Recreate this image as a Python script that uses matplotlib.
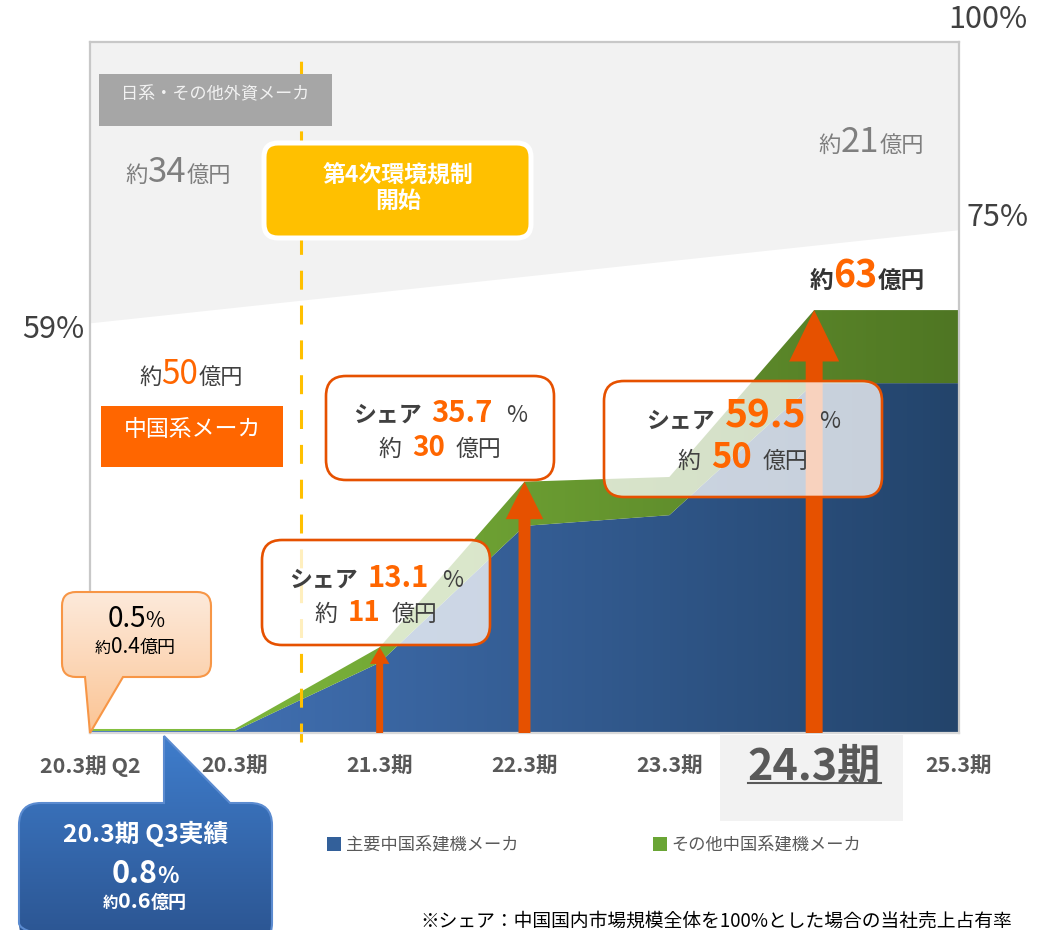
import numpy as np
import matplotlib
matplotlib.use('Agg')
import matplotlib.pyplot as plt
from matplotlib.path import Path
from matplotlib.patches import PathPatch, Patch
from matplotlib.colors import LinearSegmentedColormap
from matplotlib.transforms import Affine2D, blended_transform_factory

plt.rcParams['font.family'] = ['Noto Sans CJK JP', 'DejaVu Sans']

# --- data (億円) ---
periods = ['20.3期 Q2', '20.3期', '21.3期', '22.3期', '23.3期', '24.3期', '25.3期']
main_cn = [0.3, 0.3, 10.5, 30.9, 32.5, 52.2, 52.2]     # 主要中国系建機メーカ
other_cn = [0.3, 0.3, 2.3, 6.6, 5.7, 10.9, 10.9]     # その他中国系建機メーカ
others_x = [0, 6]
others_floor = [61.2, 75.1]                           # 日系・その他外資メーカ の下端
y_top = 103.1
share_labels = ['59%', '75%', '100%']
rule_x = 1.46                                          # 第4次環境規制 開始
arrow_idx = [2, 3, 5]

W, H = 1043, 930
fig = plt.figure(figsize=(W / 100, H / 100), dpi=100)
ax = fig.add_axes([90 / W, 1 - 733 / H, 869 / W, 691 / H])
ax.set_xlim(0, 6)
ax.set_ylim(0, y_top)

PX = Affine2D().scale(1 / 100, -1 / 100).translate(0, H / 100) + fig.dpi_scale_trans
PXU = Affine2D().scale(1 / 100, 1 / 100) + fig.dpi_scale_trans

DARK = '#404040'
ORANGE = '#ff6600'
ARROW = '#e65100'

xs = np.arange(len(periods))
main_cn = np.array(main_cn)
total = main_cn + np.array(other_cn)

# gray band (others)
ax.fill_between(others_x, others_floor, y_top, color='#f2f2f2', lw=0, zorder=0.5)


def area_gradient(lower, upper, c1, c2, z):
    verts = list(zip(xs, upper)) + list(zip(xs[::-1], lower[::-1]))
    poly = plt.Polygon(verts, closed=True, fc='none', ec='none', transform=ax.transData)
    ax.add_patch(poly)
    cm = LinearSegmentedColormap.from_list('g', [c1, c2])
    im = ax.imshow(np.linspace(0, 1, 256).reshape(1, -1), cmap=cm, extent=(0, 6, 0, y_top),
                   aspect='auto', zorder=z, interpolation='bilinear')
    im.set_clip_path(poly)


area_gradient(np.zeros(7), main_cn, '#4677be', '#23446b', 1)
area_gradient(main_cn, total, '#86c340', '#4f7623', 1)

# dashed regulation line
ax.plot([rule_x, rule_x], [-1.3, 100.6], color='#ffc000', lw=2.2,
        linestyle=(0, (6.2, 5.2)), zorder=2, clip_on=False)

# arrows
arrow_sizes = [(5, 14, 12), (8.6, 27, 27), (12.2, 36, 37)]
for i, (tw, hw, hl) in zip(arrow_idx, arrow_sizes):
    ax.annotate('', xy=(xs[i], total[i]), xytext=(xs[i], 0),
                arrowprops=dict(arrowstyle=f'simple,head_length={hl / 10},head_width={hw / 10},tail_width={tw / 10}',
                                mutation_scale=10, color=ARROW, shrinkA=0, shrinkB=0, lw=0),
                zorder=3)


def box_path(x0, y0, x1, y1, r, ptr=None):
    v = [(x0 + r, y0)]
    c = [Path.MOVETO]
    if ptr and ptr[0] == 'top':
        _, a, b, tx, ty = ptr
        v += [(a, y0), (tx, ty), (b, y0)]
        c += [Path.LINETO] * 3
    v += [(x1 - r, y0), (x1, y0), (x1, y0 + r)]
    c += [Path.LINETO, Path.CURVE3, Path.CURVE3]
    v += [(x1, y1 - r), (x1, y1), (x1 - r, y1)]
    c += [Path.LINETO, Path.CURVE3, Path.CURVE3]
    if ptr and ptr[0] == 'bottom':
        _, a, b, tx, ty = ptr
        v += [(b, y1), (tx, ty), (a, y1)]
        c += [Path.LINETO] * 3
    v += [(x0 + r, y1), (x0, y1), (x0, y1 - r)]
    c += [Path.LINETO, Path.CURVE3, Path.CURVE3]
    v += [(x0, y0 + r), (x0, y0), (x0 + r, y0)]
    c += [Path.LINETO, Path.CURVE3, Path.CURVE3]
    v += [(x0 + r, y0)]
    c += [Path.CLOSEPOLY]
    return Path(v, c)


def shape(x0, y0, x1, y1, r, fc='white', ec='none', lw=0, z=4, ptr=None):
    p = PathPatch(box_path(x0, y0, x1, y1, r, ptr), transform=PX, fc=fc, ec=ec, lw=lw,
                  zorder=z, clip_on=False)
    ax.add_patch(p)
    return p


def grad_shape(x0, y0, x1, y1, r, c1, c2, ec, lw, z, ptr, gy0, gy1):
    clip = shape(x0, y0, x1, y1, r, fc='none', ec='none', z=z - 0.1, ptr=ptr)
    cm = LinearSegmentedColormap.from_list('b', [c1, c2])
    im = ax.imshow(np.linspace(0, 1, 256).reshape(-1, 1), cmap=cm,
                   extent=(x0 - 5, x1 + 5, H - gy1, H - gy0), transform=PXU,
                   aspect='auto', zorder=z, interpolation='bilinear')
    im.set_clip_path(clip)
    im.set_clip_box(fig.bbox)
    shape(x0, y0, x1, y1, r, fc='none', ec=ec, lw=lw, z=z + 0.1, ptr=ptr)


renderer = fig.canvas.get_renderer()


def rich(cx, y, parts, z=6, gap=0):
    texts, gaps = [], []
    for p in parts:
        s, size, weight, color = p[:4]
        t = ax.text(0, y, s, fontsize=size, fontweight=weight, color=color, transform=PX,
                    va='baseline', ha='left', zorder=z, clip_on=False)
        texts.append(t)
        gaps.append(p[4] if len(p) > 4 else gap)
    widths = [t.get_window_extent(renderer).width for t in texts]
    total_w = sum(widths) + sum(gaps[:-1])
    x = cx - total_w / 2
    for t, w, g in zip(texts, widths, gaps):
        t.set_x(x)
        x += w + g
    return texts


GRAY = '#7f7f7f'
# 日系・その他外資メーカ
shape(99, 74, 332, 126, 0, fc='#a6a6a6', z=4)
ax.text(215, 94, '日系・その他外資メーカ', transform=PX, fontsize=12.3, color='#f2f2f2',
        ha='center', va='center', zorder=6)
rich(178, 182, [('約', 16, 'normal', GRAY), ('34', 25, 'normal', GRAY), ('億円', 16, 'normal', GRAY)])
rich(871, 152, [('約', 16, 'normal', GRAY), ('21', 25, 'normal', GRAY), ('億円', 16, 'normal', GRAY)])

# 第4次環境規制 開始
shape(264, 143, 531, 238, 14, fc='#ffc000', ec='white', lw=3.6, z=4)
ax.text(398, 189, '第4次環境規制\n開始', transform=PX, fontsize=16.5, fontweight='bold',
        color='white', ha='center', va='center', linespacing=1.15, zorder=6)

# 中国系メーカ
rich(191, 384, [('約', 16, 'normal', DARK), ('50', 24, 'normal', ORANGE), ('億円', 16, 'normal', DARK)])
shape(101, 406, 283, 467, 0, fc=ORANGE, z=4)
ax.text(192, 429, '中国系メーカ', transform=PX, fontsize=16.5, color='white',
        ha='center', va='center', zorder=6)

rich(867, 288, [('約', 17, 'bold', '#333333'), ('63', 27, 'bold', ORANGE), ('億円', 17, 'bold', '#333333')])

# share callouts
callouts = [((262, 540, 490, 645), ('13.1', '11'), (587, 621), (21, 20)),
            ((326, 376, 554, 480), ('35.7', '30'), (422, 456), (21, 20)),
            ((604, 381, 882, 497), ('59.5', '50'), (428, 468), (28, 25))]
for (x0, y0, x1, y1), (pct, oku), (b1, b2), (s1, s2) in callouts:
    shape(x0, y0, x1, y1, 20, fc=(1, 1, 1, 0.75), ec=ARROW, lw=1.9, z=4)
    cx = (x0 + x1) / 2
    rich(cx, b1, [('シェア', 16.5, 'bold', DARK, 10), (pct, s1, 'bold', ORANGE, 13), ('%', 16.5, 'normal', DARK)])
    rich(cx, b2, [('約', 16.5, 'normal', DARK, 11), (oku, s2, 'bold', ORANGE, 11), ('億円', 16.5, 'normal', DARK)])

# 0.5% bubble
grad_shape(62, 592, 211, 677, 14, '#fdeadb', '#fbc494', '#f79646', 1.5, 4,
           ('bottom', 85, 123, 90, 733), 592, 733)
rich(136, 627, [('0.5', 20, 'normal', 'black'), ('%', 15, 'normal', 'black')])
rich(135, 653, [('約', 11.5, 'normal', 'black'), ('0.4', 15, 'normal', 'black'), ('億円', 13, 'normal', 'black')])

# 20.3期 Q3実績 bubble
grad_shape(19, 803, 272, 945, 22, '#3f7dcc', '#2b5490', '#5b8bd0', 1.5, 4,
           ('top', 164, 230, 164, 736), 736, 945)
rich(146, 842, [('20.3期 Q3実績', 17.8, 'bold', 'white')])
rich(145, 883, [('0.8', 22, 'bold', 'white'), ('%', 16, 'bold', 'white')])
rich(145, 908, [('約', 11, 'bold', 'white'), ('0.6', 15.5, 'bold', 'white'), ('億円', 13, 'bold', 'white')])

# axes styling
for s in ['left', 'top', 'right']:
    ax.spines[s].set_color('#c8c8c8')
    ax.spines[s].set_linewidth(1.6)
ax.spines['bottom'].set_color('#d9d9d9')
ax.spines['bottom'].set_linewidth(1.6)
ax.set_yticks([])
tick_labels = [p if i != 5 else '' for i, p in enumerate(periods)]
ax.set_xticks(xs, tick_labels)
ax.tick_params(axis='x', length=0, pad=16, labelsize=15.5, labelcolor='#595959')
for t in ax.get_xticklabels():
    t.set_fontweight('bold')

# highlighted 24.3期
shape(720, 735, 903, 821, 0, fc='#f2f2f2', z=1)
bt = blended_transform_factory(ax.transData, PX)
big = ax.text(xs[5], 767, periods[5], transform=bt, fontsize=31, fontweight='bold',
              color='#595959', ha='center', va='center', zorder=6, clip_on=False)
bb = big.get_window_extent(renderer)
ax.plot([bb.x0, bb.x1], [H - 783, H - 783], transform=PXU, color='#595959', lw=1.5,
        zorder=6, clip_on=False)

# share % labels
ax.text(53, 330, share_labels[0], transform=PX, fontsize=22, color=DARK, ha='center', va='center')
ax.text(998, 218, share_labels[1], transform=PX, fontsize=22, color=DARK, ha='center', va='center')
ax.text(988, 20, share_labels[2], transform=PX, fontsize=22, color=DARK, ha='center', va='center')

# legend
ax.legend(handles=[Patch(fc='#33609a'), Patch(fc='#6aa535')],
          labels=['主要中国系建機メーカ', 'その他中国系建機メーカ'],
          loc='center left', bbox_to_anchor=(327 / W, 1 - 845 / H), bbox_transform=fig.transFigure,
          ncol=2, frameon=False, handlelength=0.8, handleheight=0.8, handletextpad=0.3,
          columnspacing=7.8, fontsize=12.4, labelcolor='#595959', borderaxespad=0, borderpad=0)

# footnote
ax.text(420, 911, '※シェア：中国国内市場規模全体を100%とした場合の当社売上占有率', transform=PX,
        fontsize=13.5, color='black', ha='left', va='top', clip_on=False)

ax.set_xlim(0, 6)
ax.set_ylim(0, y_top)
fig.savefig('out.png', dpi=100)
